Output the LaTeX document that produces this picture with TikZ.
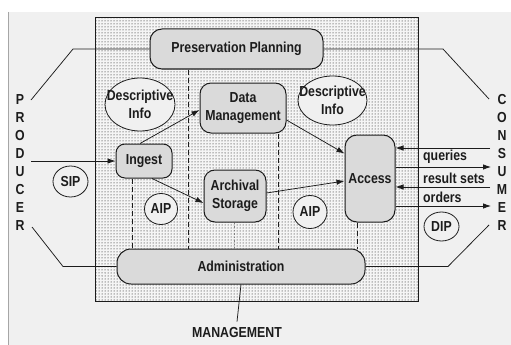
\documentclass[tikz,border=0pt]{standalone}
\usepackage{fontspec}
\setmainfont{Liberation Sans}[FakeStretch=0.85]
\usetikzlibrary{arrows.meta,patterns,shapes.geometric}

\definecolor{pagegray}{HTML}{F0F0F0}
\definecolor{boxgray}{HTML}{DADADA}
\definecolor{ink}{HTML}{1C1C1C}

\begin{document}
\begin{tikzpicture}[x=1pt,y=-1pt,
		module/.style={draw=ink,line width=1pt,fill=boxgray,rounded corners=11pt,
			inner sep=0pt,align=center,text=ink,font=\fontsize{14.5}{17.5}\selectfont\bfseries},
		package/.style={draw=ink,line width=0.8pt,fill=pagegray,ellipse,inner sep=-12pt,
			align=center,text=ink,font=\fontsize{14.5}{17.5}\selectfont\bfseries},
		letter/.style={inner sep=0pt,text=ink,font=\fontsize{14.5}{17.5}\selectfont\bfseries},
		tag/.style={anchor=west,inner sep=0pt,text=ink,font=\fontsize{14.5}{17.5}\selectfont\bfseries},
		link/.style={line width=0.75pt,ink},
		flow/.style={line width=0.75pt,ink,-{Latex[length=8pt,width=5.5pt]}},
		guide/.style={line width=0.75pt,ink,dash pattern=on 5pt off 3pt}]
	
	\useasboundingbox (0,0) rectangle (511,345);
	\fill[white] (0,0) rectangle (511,345);
	\fill[pagegray] (8,12) rectangle (511,345);
	\draw[line width=0.8pt,gray!70] (8.5,12) -- (8.5,345);
	
	% the archive itself
	\fill[white!96!black] (95,18) rectangle (418,301);
	\fill[pattern=dots,pattern color=black] (95,18) rectangle (418,301);
	\draw[line width=1pt,ink] (95,18) rectangle (418,301);
	
	% functional entities
	\node[module,minimum width=173pt,minimum height=40pt,rounded corners=12pt] (pp) at (236.5,49) {Preservation Planning};
	\node[module,minimum width=248pt,minimum height=35pt,rounded corners=14pt] (admin) at (241,266.5) {Administration};
	\node[module,minimum width=56pt,minimum height=34pt,rounded corners=9pt] (ingest) at (144,161) {Ingest};
	\node[module,minimum width=86pt,minimum height=50pt] (dm) at (243,108) {Data\\Management};
	\node[module,minimum width=62pt,minimum height=52pt] (as) at (235,196) {Archival\\Storage};
	\node[module,minimum width=50pt,minimum height=87pt,rounded corners=12pt] (access) at (370,178.5) {Access};
	
	% information packages
	\node[package,minimum width=70pt,minimum height=53pt] (descL) at (140,104.5) {Descriptive\\Info};
	\node[package,minimum width=69pt,minimum height=49pt] (descR) at (332.5,100.5) {Descriptive\\Info};
	\node[package,minimum width=35pt,minimum height=31pt] (sip) at (70.5,181.5) {SIP};
	\node[package,minimum width=33pt,minimum height=31pt] (aipL) at (161,209) {AIP};
	\node[package,minimum width=34pt,minimum height=33pt] (aipR) at (310,212) {AIP};
	\node[package,minimum width=35pt,minimum height=29pt] (dip) at (441.5,226.5) {DIP};
	
	% outside roles
	\foreach \ch [count=\i from 0] in {P,R,O,D,U,C,E,R}
		\node[letter] (prod\i) at (20,100+18*\i) {\ch};
	\foreach \ch [count=\i from 0] in {C,O,N,S,U,M,E,R}
		\node[letter] (cons\i) at (502,100+18*\i) {\ch};
	\node[letter] (mgmt) at (237,333) {MANAGEMENT};
	
	% dashed splits down to administration
	\draw[guide] (132,0 |- ingest.south) -- (132,0 |- admin.north);
	\draw[guide] (188,0 |- pp.south) -- (188,0 |- admin.north);
	\draw[line width=0.6pt,gray,dash pattern=on 1.5pt off 2pt] (234,0 |- as.south) -- (234,0 |- admin.north);
	\draw[guide] (278,0 |- dm.south) -- (278,0 |- admin.north);
	\draw[guide] (357,0 |- access.south) -- (357,0 |- admin.north);
	
	% producer side
	\coordinate (pTop) at (31,100);
	\coordinate (pIn) at (31,161);
	\coordinate (pLow) at (32,227);
	\draw[link] (pTop) -- (73,49) -- (pp.west);
	\draw[link] (pLow) -- (63,266.5) -- (admin.west);
	\draw[flow] (pIn) -- (ingest.west);
	
	% consumer side
	\coordinate (cTop) at (489,99);
	\coordinate (cLow) at (489,225);
	\draw[link] (pp.east) -- (443,49) -- (cTop);
	\draw[link] (admin.east) -- (448,266.5) -- (cLow);
	
	\coordinate (c1) at (490,148);
	\coordinate (c2) at (491,167);
	\coordinate (c3) at (490,187);
	\coordinate (c4) at (491,206);
	\draw[flow] (c1) -- (access.east |- c1);
	\draw[flow] (access.east |- c2) -- (c2);
	\draw[flow] (c3) -- (access.east |- c3);
	\draw[flow] (access.east |- c4) -- (c4);
	\node[tag] (queries) at (423,157) {queries};
	\node[tag] (results) at (423,178) {result sets};
	\node[tag] (orders) at (423,197) {orders};
	
	% flows inside the archive
	\draw[flow] ([xshift=-4pt]ingest.north) -- ([yshift=-2pt]dm.west);
	\draw[flow] ([xshift=8pt]ingest.south) -- ([yshift=-7pt]as.west);
	\draw[flow] ([yshift=-12pt]dm.east) -- ([yshift=25pt]access.west);
	\draw[flow] ([yshift=3pt]as.east) -- ([yshift=-2.5pt]access.west);
	
	\draw[link] (admin.south) -- ([yshift=6pt]mgmt.north);
	
\end{tikzpicture}
\end{document}
